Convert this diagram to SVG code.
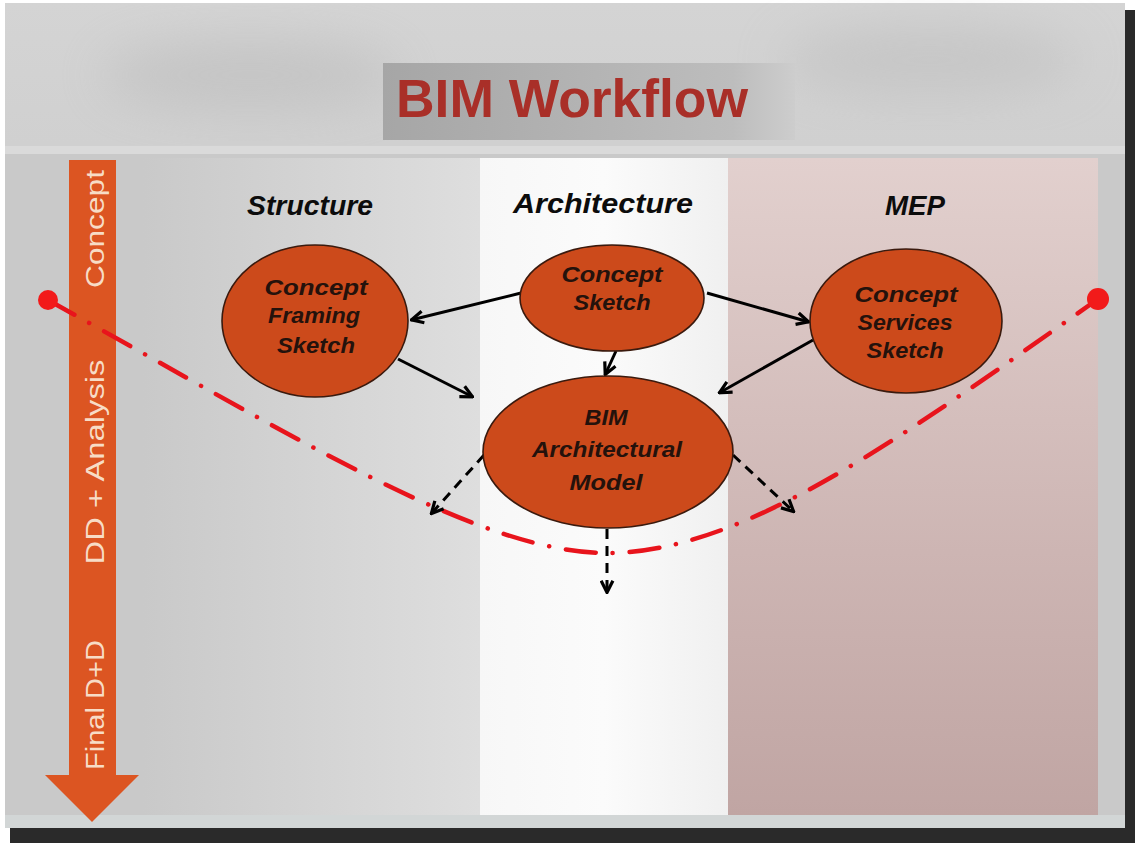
<svg xmlns="http://www.w3.org/2000/svg" width="1135" height="843" viewBox="0 0 1135 843">
<defs>
<linearGradient id="bgTop" x1="0" y1="0" x2="0" y2="1">
<stop offset="0" stop-color="#d4d4d4"/><stop offset="0.6" stop-color="#c6c6c6"/><stop offset="1" stop-color="#cfcfcf"/>
</linearGradient>
<linearGradient id="title" x1="0" y1="0" x2="1" y2="0">
<stop offset="0" stop-color="#a6a6a6"/><stop offset="0.85" stop-color="#bdbdbd"/><stop offset="1" stop-color="#cdcdcd"/>
</linearGradient>
<linearGradient id="struct" x1="0" y1="0" x2="1" y2="0">
<stop offset="0" stop-color="#c9c9c9"/><stop offset="1" stop-color="#dedede"/>
</linearGradient>
<linearGradient id="arch" x1="0" y1="0" x2="1" y2="0">
<stop offset="0" stop-color="#f7f7f7"/><stop offset="0.5" stop-color="#fbfbfb"/><stop offset="1" stop-color="#f0f0f0"/>
</linearGradient>
<linearGradient id="mep" x1="0" y1="0" x2="0" y2="1">
<stop offset="0" stop-color="#e2d0ce"/><stop offset="0.6" stop-color="#cdb5b3"/><stop offset="1" stop-color="#c0a5a3"/>
</linearGradient>
<filter id="blur" x="-50%" y="-50%" width="200%" height="200%"><feGaussianBlur stdDeviation="25"/></filter>
<marker id="ah" viewBox="0 0 14 14" refX="13" refY="7" markerWidth="15" markerHeight="15" markerUnits="userSpaceOnUse" orient="auto">
<path d="M1.5,1.5 L12.5,7 L1.5,12.5" fill="none" stroke="#000" stroke-width="3" stroke-linejoin="miter"/>
</marker>
<style>
.node ellipse{fill:#cc4a1b;stroke:#3a1a0e;stroke-width:1.6}
.node text{font-family:"Liberation Sans",Arial,sans-serif;font-weight:bold;font-style:italic;font-size:22px;fill:#24120c;text-anchor:middle}
.hdr{font-family:"Liberation Sans",Arial,sans-serif;font-weight:bold;font-style:italic;font-size:28px;fill:#0c0c0c}
.phase{font-family:"Liberation Sans",Arial,sans-serif;font-size:26px;fill:#f7dcc6;text-anchor:middle}
.solid{fill:none;stroke:#000;stroke-width:3;marker-end:url(#ah)}
.dash{fill:none;stroke:#000;stroke-width:3;stroke-dasharray:10 7;marker-end:url(#ah)}
</style>
</defs>
<rect x="0" y="0" width="1135" height="843" fill="#ffffff"/>
<rect x="10" y="10" width="1125" height="833" fill="#2a2a2a"/>
<rect x="5" y="3" width="1120" height="825" fill="url(#bgTop)"/>
<ellipse cx="250" cy="75" rx="150" ry="35" fill="#b4b4b4" opacity="0.45" filter="url(#blur)"/>
<ellipse cx="930" cy="60" rx="150" ry="35" fill="#b4b4b4" opacity="0.4" filter="url(#blur)"/>
<rect x="5" y="146" width="1120" height="8" fill="#dcdcdc" opacity="0.8"/>
<rect x="5" y="154" width="1120" height="674" fill="#c9c9c9"/>
<rect x="143" y="158" width="337" height="657" fill="url(#struct)"/>
<rect x="480" y="158" width="248" height="657" fill="url(#arch)"/>
<rect x="728" y="158" width="370" height="657" fill="url(#mep)"/>
<rect x="5" y="815" width="1120" height="13" fill="#d2d6d6"/>
<g id="title-box">
<rect x="383" y="63" width="412" height="77" fill="url(#title)"/>
<text x="572" y="117" font-family="'Liberation Sans',Arial,sans-serif" font-weight="bold" font-size="54" fill="#a92f28" text-anchor="middle" textLength="352" lengthAdjust="spacingAndGlyphs">BIM Workflow</text>
</g>
<g id="phase-arrow">
<path d="M69,160 L116,160 L116,775 L139,775 L92,822 L45,775 L69,775 Z" fill="#dc5522"/>
<text class="phase" transform="translate(104,229) rotate(-90)" textLength="118" lengthAdjust="spacingAndGlyphs">Concept</text>
<text class="phase" transform="translate(104,462) rotate(-90)" textLength="205" lengthAdjust="spacingAndGlyphs">DD + Analysis</text>
<text class="phase" transform="translate(104,705) rotate(-90)" textLength="130" lengthAdjust="spacingAndGlyphs">Final D+D</text>
</g>
<g id="headers">
<text class="hdr" x="247" y="215" textLength="126" lengthAdjust="spacingAndGlyphs">Structure</text>
<text class="hdr" x="513" y="213" textLength="180" lengthAdjust="spacingAndGlyphs">Architecture</text>
<text class="hdr" x="885" y="215" textLength="60" lengthAdjust="spacingAndGlyphs">MEP</text>
</g>
<g id="timeline">
<path d="M48,300 C300,440 480,553 607,553 C745,553 905,435 1098,299" fill="none" stroke="#e8141c" stroke-width="4.5" stroke-dasharray="30 17 0.1 17" stroke-linecap="round"/>
<circle cx="48" cy="300" r="10" fill="#f21a1a"/>
<circle cx="1098" cy="299" r="11" fill="#f21a1a"/>
</g>
<g id="connectors">
<path class="solid" d="M521,293 L411,320"/>
<path class="solid" d="M707,293 L809,322"/>
<path class="solid" d="M616,351 L605,375"/>
<path class="solid" d="M398,359 L473,397"/>
<path class="solid" d="M813,340 L719,393"/>
<path class="dash" d="M484,455 L431,514"/>
<path class="dash" d="M733,455 L794,512"/>
<path class="dash" d="M607,529 L607,593"/>
</g>
<g id="node-concept-sketch" class="node">
<ellipse cx="612" cy="298" rx="92" ry="53"/>
<text x="612" y="282" textLength="101" lengthAdjust="spacingAndGlyphs">Concept</text>
<text x="612" y="310" textLength="77" lengthAdjust="spacingAndGlyphs">Sketch</text>
</g>
<g id="node-framing" class="node">
<ellipse cx="315" cy="321" rx="93" ry="76"/>
<text x="316" y="295" textLength="103" lengthAdjust="spacingAndGlyphs">Concept</text>
<text x="314" y="323" textLength="92" lengthAdjust="spacingAndGlyphs">Framing</text>
<text x="316" y="353" textLength="78" lengthAdjust="spacingAndGlyphs">Sketch</text>
</g>
<g id="node-services" class="node">
<ellipse cx="906" cy="321" rx="96" ry="72"/>
<text x="906" y="302" textLength="103" lengthAdjust="spacingAndGlyphs">Concept</text>
<text x="905" y="330" textLength="95" lengthAdjust="spacingAndGlyphs">Services</text>
<text x="905" y="358" textLength="77" lengthAdjust="spacingAndGlyphs">Sketch</text>
</g>
<g id="node-bim" class="node">
<ellipse cx="608" cy="452" rx="125" ry="76"/>
<text x="606" y="425" textLength="43" lengthAdjust="spacingAndGlyphs">BIM</text>
<text x="607" y="457" textLength="150" lengthAdjust="spacingAndGlyphs">Architectural</text>
<text x="606" y="490" textLength="73" lengthAdjust="spacingAndGlyphs">Model</text>
</g>
</svg>
